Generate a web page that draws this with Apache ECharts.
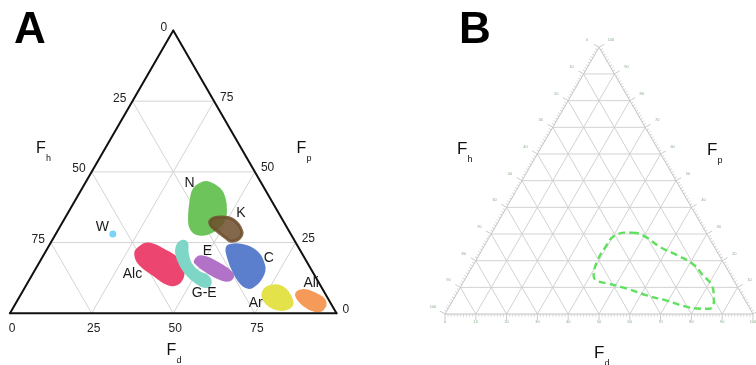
<!DOCTYPE html>
<html>
<head>
<meta charset="utf-8">
<script src="https://cdn.jsdelivr.net/npm/echarts@6/dist/echarts.min.js"></script>
<style>
  html, body { margin: 0; padding: 0; background: #fff; }
  #chart { width: 756px; height: 365px; }
</style>
</head>
<body>
<div id="chart"></div>
<script>
// Compositions are ternary triples [Fd, Fp, Fh] in percent (sum = 100).

// ---- Panel A: solvent-class regions ----
const ticksA = [0, 25, 50, 75];
const gridLevelsA = [25, 50, 75];

const classNames = ['N', 'K', 'Alc', 'G-E', 'E', 'C', 'Ar', 'Ali'];

const regionN = [[38,46,16],[42,44,14],[45,41,14],[48,36,16],[49,32,19],[47.5,29,23.5],[44,28,28],[40.5,30,29.5],[38,34,28],[35.5,40,24.5],[34.5,44,21.5],[36,46,18]];
const regionK = [[45,33,22],[47.5,34,18.5],[52,33,15],[56.5,29,14.5],[57,26.5,16.5],[55,25.5,19.5],[53,26.5,20.5],[49,29,22],[46,31,23]];
const regionAlc = [[28,23,49],[30,24.5,45.5],[36.5,22,41.5],[42.5,18.5,39],[46,14,40],[46,10.5,43.5],[43,10.5,46.5],[37.5,13.5,49],[31,17.5,51.5],[28,21,51]];
const regionGE = [[39.5,25,35.5],[41.5,25,33.5],[43.5,21.5,35],[46.5,17.5,36],[50.5,14.5,35],[54,13,33],[56,10.5,33.5],[55,9.5,35.5],[51.5,11,37.5],[46.5,14.5,39],[42.5,18.5,39],[40,22,38]];
const regionE = [[47.5,18.5,34],[48.5,20,31.5],[54,18,28],[61,14,25],[61.5,12,26.5],[59,12,29],[52.5,15,32.5],[48.5,17.5,34]];
const regionC = [[55.5,24,20.5],[59,24,17],[64,22,14],[68,18.5,13.5],[70.5,14,15.5],[69.5,9.5,21],[66.5,10,23.5],[61,15,24],[56.5,20.5,23],[55,23,22]];
const regionAr = [[74,7,19],[75,9.5,15.5],[79,9,12],[84,4.5,11.5],[84.5,2,13.5],[81.5,1.5,17],[77,3.5,19.5]];
const regionAli = [[84.5,6.5,9],[85.5,8,6.5],[89.5,7,3.5],[94,4.5,1.5],[95,1.5,3.5],[93,1,6],[88.5,3,8.5]];

// Water is a single composition
const water = [17.5, 28, 54.5];

// Where each class name sits, in the same ternary coordinates
const labelNames = ['N', 'K', 'W', 'E', 'Alc', 'C', 'G-E', 'Ar', 'Ali'];
const labelAt = [[32,46,22],[53,35.5,11.5],[13,30.5,56.5],[49.5,22,28.5],[30.5,14,55.5],[69.5,19.5,11],[56,7,37],[73.5,3.5,23],[87,10.5,2.5]];

// ---- Panel B: feasible solvent window ----
const gridLevelsB = [10, 20, 30, 40, 50, 60, 70, 80, 90];
const majorTicksB = [0, 10, 20, 30, 40, 50, 60, 70, 80, 90, 100];
const minorTicksB = [];
for (let v = 1; v < 100; v++) if (v % 10 !== 0) minorTicksB.push(v);

const windowB = [[45.5,30.5,24],[49.5,29.5,21],[57.5,25,17.5],[64.5,22,13.5],[71.5,18.5,10],[76.5,14.5,9],[81,11,8],[84,6.5,9.5],[85.5,2.5,12],[83.5,2,14.5],[78,2.5,19.5],[69.5,5,25.5],[62,7,31],[54.5,9.5,36],[47,11.5,41.5],[43,12.5,44.5],[41,14.5,44.5],[39.5,20,40.5],[39.5,25,35.5],[40.5,29.5,30]];

// ---- styling ----
const FONT = 'Liberation Sans, Arial, Helvetica, sans-serif';
const regionColors = {
  'N': '#6cc45a', 'K': '#6e4e2c', 'Alc': '#ec4670', 'G-E': '#7ed6c6',
  'E': '#b272c8', 'C': '#5b7ecd', 'Ar': '#e3e24a', 'Ali': '#f69a5a'
};
const regionOpacity = { 'K': 0.85 };
const regionData = {
  'N': regionN, 'K': regionK, 'Alc': regionAlc, 'G-E': regionGE,
  'E': regionE, 'C': regionC, 'Ar': regionAr, 'Ali': regionAli
};

// ternary (Fd, Fp) -> cartesian on an equilateral triangle of side 100
const H = Math.sqrt(3) / 2;
function tern(fd, fp) { return [fd + fp / 2, fp * H]; }

// grid line segments [fd1, fp1, fd2, fp2] for each level
function gridSegments(levels) {
  const s = [];
  levels.forEach(v => {
    s.push([0, v, 100 - v, v]);          // constant Fp
    s.push([v, 0, v, 100 - v]);          // constant Fd
    s.push([100 - v, 0, 0, 100 - v]);    // constant Fh
  });
  return s;
}
const outline = [[0, 0, 100, 0], [100, 0, 0, 100], [0, 100, 0, 0]];

function segmentSeries(gi, segs, style, z) {
  return {
    type: 'custom', xAxisIndex: gi, yAxisIndex: gi, silent: true, clip: false, z: z,
    data: segs,
    renderItem: (p, api) => {
      const a = api.coord(tern(api.value(0), api.value(1)));
      const b = api.coord(tern(api.value(2), api.value(3)));
      return { type: 'line', shape: { x1: a[0], y1: a[1], x2: b[0], y2: b[1] },
               style: Object.assign({}, style) };
    }
  };
}

// edge positions of an axis value, and the outward direction of each edge
const edges = {
  bottom: { at: v => [v, 0], dir: [0, 1] },
  left:   { at: v => [0, 100 - v], dir: [-H, -0.5] },
  right:  { at: v => [100 - v, v], dir: [H, -0.5] }
};

function tickSeries(gi, values, edge, len, style, z) {
  const e = edges[edge];
  return {
    type: 'custom', xAxisIndex: gi, yAxisIndex: gi, silent: true, clip: false, z: z,
    data: values.map(v => [v, 0]),
    renderItem: (p, api) => {
      const t = e.at(api.value(0));
      const a = api.coord(tern(t[0], t[1]));
      return { type: 'line',
               shape: { x1: a[0], y1: a[1], x2: a[0] + e.dir[0] * len, y2: a[1] + e.dir[1] * len },
               style: Object.assign({}, style) };
    }
  };
}

function tickLabelSeries(gi, values, edge, off, align, textStyle, z) {
  const e = edges[edge];
  return {
    type: 'custom', xAxisIndex: gi, yAxisIndex: gi, silent: true, clip: false, z: z,
    data: values.map(v => [v, 0]),
    renderItem: (p, api) => {
      const v = api.value(0);
      const t = e.at(v);
      const a = api.coord(tern(t[0], t[1]));
      return { type: 'text', x: a[0] + off[0], y: a[1] + off[1],
               style: Object.assign({ text: String(v), align: align, verticalAlign: 'middle' }, textStyle) };
    }
  };
}

const series = [];

// Panel A frame and grid
series.push(segmentSeries(0, gridSegments(gridLevelsA), { stroke: '#d4d4d4', lineWidth: 1 }, 1));
series.push(segmentSeries(0, outline, { stroke: '#111', lineWidth: 2, lineCap: 'round' }, 5));

// Panel A class regions
series.push({
  type: 'custom', xAxisIndex: 0, yAxisIndex: 0, silent: true, clip: false, z: 3,
  data: classNames.map((n, i) => [i, 0]),
  renderItem: (p, api) => {
    const name = classNames[p.dataIndex];
    const pts = regionData[name].map(t => api.coord(tern(t[0], t[1])));
    return { type: 'polygon', shape: { points: pts, smooth: 0.45 },
             style: { fill: regionColors[name], stroke: regionColors[name], lineWidth: 3,
                      lineJoin: 'round', opacity: regionOpacity[name] || 1 } };
  }
});

// water point
series.push({
  type: 'scatter', xAxisIndex: 0, yAxisIndex: 0, silent: true, z: 3,
  symbolSize: 7, itemStyle: { color: '#5ac8f5' },
  data: [tern(water[0], water[1])]
});

// class names
series.push({
  type: 'custom', xAxisIndex: 0, yAxisIndex: 0, silent: true, clip: false, z: 6,
  data: labelAt.map(t => [t[0], t[1]]),
  renderItem: (p, api) => {
    const c = api.coord(tern(api.value(0), api.value(1)));
    return { type: 'text', x: c[0], y: c[1],
             style: { text: labelNames[p.dataIndex], fontSize: 14, fontFamily: FONT,
                      fill: '#1a1a1a', align: 'center', verticalAlign: 'middle' } };
  }
});

// Panel A tick labels
const tickTextA = { fontSize: 12, fontFamily: FONT, fill: '#222' };
series.push(tickLabelSeries(0, ticksA, 'bottom', [2, 15], 'center', tickTextA, 6));
series.push(tickLabelSeries(0, ticksA, 'left', [-6, -3], 'right', tickTextA, 6));
series.push(tickLabelSeries(0, ticksA, 'right', [6, -4], 'left', tickTextA, 6));

// Panel B grid, frame and ticks
series.push(segmentSeries(1, gridSegments(gridLevelsB), { stroke: '#d2d2d2', lineWidth: 1 }, 1));
series.push(segmentSeries(1, outline, { stroke: '#c4c4c4', lineWidth: 1 }, 2));
['bottom', 'left', 'right'].forEach(edge => {
  series.push(tickSeries(1, minorTicksB, edge, 2.5, { stroke: '#c8c8c8', lineWidth: 0.8 }, 2));
  series.push(tickSeries(1, majorTicksB, edge, 6, { stroke: '#bdbdbd', lineWidth: 0.8 }, 2));
});
const tickTextB = { fontSize: 4, fontFamily: FONT, fill: '#88aa88' };
series.push(tickLabelSeries(1, majorTicksB, 'bottom', [0, 8], 'center', tickTextB, 3));
series.push(tickLabelSeries(1, majorTicksB, 'left', [-12, -7], 'center', tickTextB, 3));
series.push(tickLabelSeries(1, majorTicksB, 'right', [12, -7], 'center', tickTextB, 3));

// Panel B dashed window
series.push({
  type: 'custom', xAxisIndex: 1, yAxisIndex: 1, silent: true, clip: false, z: 4,
  data: [[0, 0]],
  renderItem: (p, api) => {
    const pts = windowB.map(t => api.coord(tern(t[0], t[1])));
    return { type: 'polygon', shape: { points: pts, smooth: 0.45 },
             style: { fill: 'none', stroke: '#5fe05f', lineWidth: 2.4, lineDash: [7, 4] } };
  }
});

// titles
function axisTitle(x, y, main, sub, size) {
  return {
    type: 'group', children: [
      { type: 'text', x: x, y: y, style: { text: main, fontSize: size, fontFamily: FONT, fill: '#111', align: 'left', verticalAlign: 'middle' } },
      { type: 'text', x: x + size * 0.62, y: y + size * 0.6, style: { text: sub, fontSize: 9, fontFamily: FONT, fill: '#111', align: 'left', verticalAlign: 'middle' } }
    ]
  };
}

const hiddenAxis = (max) => ({ type: 'value', min: 0, max: max, show: false });

const option = {
  animation: false,
  backgroundColor: '#fff',
  grid: [
    { left: 10, top: 30.5, width: 326.5, height: 326.5 * H, containLabel: false },
    { left: 445, top: 47.3, width: 308, height: 308 * H, containLabel: false }
  ],
  xAxis: [Object.assign({ gridIndex: 0 }, hiddenAxis(100)), Object.assign({ gridIndex: 1 }, hiddenAxis(100))],
  yAxis: [Object.assign({ gridIndex: 0 }, hiddenAxis(100 * H)), Object.assign({ gridIndex: 1 }, hiddenAxis(100 * H))],
  graphic: [
    { type: 'text', x: 14, y: 31, style: { text: 'A', fontSize: 44, fontWeight: 'bold', fontFamily: FONT, fill: '#000', align: 'left', verticalAlign: 'middle' } },
    { type: 'text', x: 459, y: 31, style: { text: 'B', fontSize: 44, fontWeight: 'bold', fontFamily: FONT, fill: '#000', align: 'left', verticalAlign: 'middle' } },
    axisTitle(36, 149, 'F', 'h', 16),
    axisTitle(296.5, 149, 'F', 'p', 16),
    axisTitle(166.5, 351, 'F', 'd', 16),
    axisTitle(457, 149, 'F', 'h', 17),
    axisTitle(707, 150, 'F', 'p', 17),
    axisTitle(594, 353, 'F', 'd', 17)
  ],
  series: series
};

const chart = echarts.init(document.getElementById('chart'), null, { renderer: 'canvas' });
chart.setOption(option);
</script>
</body>
</html>
